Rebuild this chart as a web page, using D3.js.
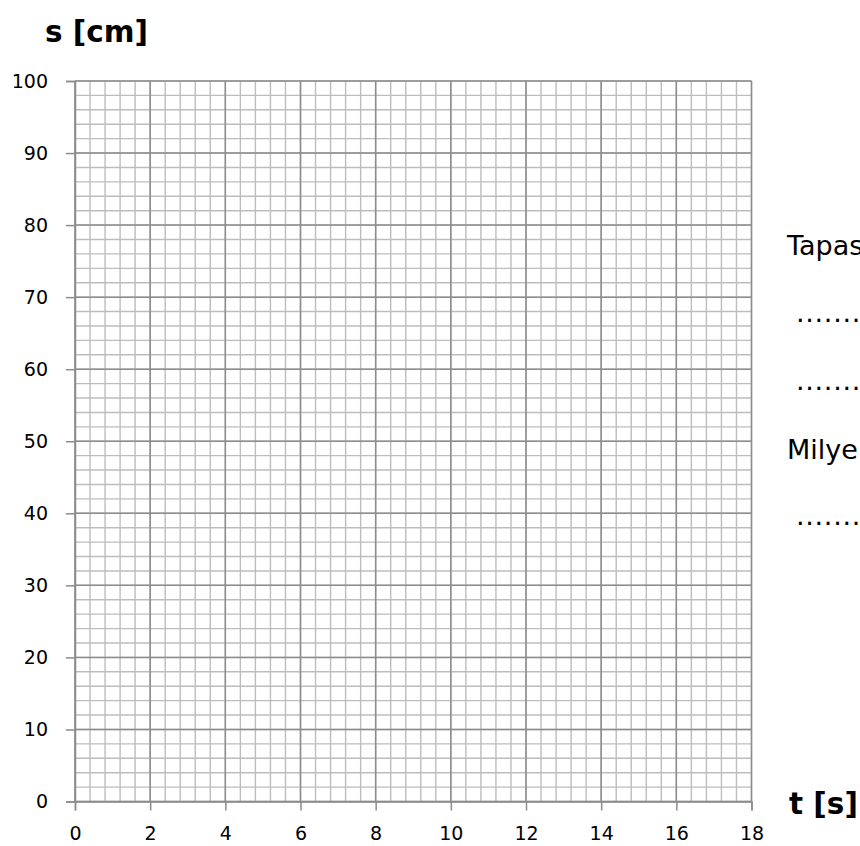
<!DOCTYPE html>
<html>
<head>
<meta charset="utf-8">
<script src="https://cdn.jsdelivr.net/npm/d3@7"></script>
<style>
  html, body { margin: 0; padding: 0; background: #fff; }
  svg { display: block; }
</style>
</head>
<body>
<script>
// ---- data ----
const xDomain = [0, 18];
const yDomain = [0, 100];
const xMajorTicks = [0, 2, 4, 6, 8, 10, 12, 14, 16, 18];
const yMajorTicks = [0, 10, 20, 30, 40, 50, 60, 70, 80, 90, 100];
const xMinorStep = 0.4;
const yMinorStep = 2;
const xAxisTitle = "t [s]";
const yAxisTitle = "s [cm]";
const sideTexts = [
  "Tapasztalat:",
  "....................................",
  "....................................",
  "Milyen mozgás?",
  "...................................."
];

// ---- layout ----
const W = 860, H = 846;
const margin = { left: 75, right: 108.5, top: 81, bottom: 44.5 };
const svg = d3.select("body").append("svg").attr("width", W).attr("height", H);

const x = d3.scaleLinear().domain(xDomain).range([margin.left, W - margin.right]);
const y = d3.scaleLinear().domain(yDomain).range([H - margin.bottom, margin.top]);

const xMinor = d3.range(0, Math.round((xDomain[1] - xDomain[0]) / xMinorStep) + 1).map(i => xDomain[0] + i * xMinorStep);
const yMinor = d3.range(0, Math.round((yDomain[1] - yDomain[0]) / yMinorStep) + 1).map(i => yDomain[0] + i * yMinorStep);

const grid = svg.append("g");
// minor grid
grid.selectAll("line.vmin").data(xMinor).join("line")
  .attr("x1", d => x(d)).attr("x2", d => x(d))
  .attr("y1", y(yDomain[0])).attr("y2", y(yDomain[1]))
  .attr("stroke", "#bdbdbd").attr("stroke-width", 1.4);
grid.selectAll("line.hmin").data(yMinor).join("line")
  .attr("y1", d => y(d)).attr("y2", d => y(d))
  .attr("x1", x(xDomain[0])).attr("x2", x(xDomain[1]))
  .attr("stroke", "#bdbdbd").attr("stroke-width", 1.4);
// major grid
grid.selectAll("line.vmaj").data(xMajorTicks).join("line")
  .attr("x1", d => x(d)).attr("x2", d => x(d))
  .attr("y1", y(yDomain[0])).attr("y2", y(yDomain[1]))
  .attr("stroke", "#8c8c8c").attr("stroke-width", 1.5);
grid.selectAll("line.hmaj").data(yMajorTicks).join("line")
  .attr("y1", d => y(d)).attr("y2", d => y(d))
  .attr("x1", x(xDomain[0])).attr("x2", x(xDomain[1]))
  .attr("stroke", "#8c8c8c").attr("stroke-width", 1.5);

// axes
const tickFont = "'DejaVu Sans', Verdana, sans-serif";
const xAxis = svg.append("g")
  .attr("transform", `translate(0,${y(yDomain[0])})`)
  .call(d3.axisBottom(x).tickValues(xMajorTicks).tickFormat(d3.format("d")).tickSize(9).tickPadding(16.5));
const yAxis = svg.append("g")
  .attr("transform", `translate(${x(xDomain[0])},0)`)
  .call(d3.axisLeft(y).tickValues(yMajorTicks).tickFormat(d3.format("d")).tickSize(9).tickPadding(18));
[xAxis, yAxis].forEach(a => {
  a.select(".domain").attr("stroke", "#8c8c8c").attr("stroke-width", 1.5);
  a.selectAll(".tick line").attr("stroke", "#8c8c8c").attr("stroke-width", 1.5);
  a.selectAll(".tick text").attr("fill", "#000").style("font-family", tickFont).style("font-size", "19px");
});

// axis titles
svg.append("text").attr("x", 45).attr("y", 42)
  .style("font-family", tickFont).style("font-weight", "bold").style("font-size", "29.5px")
  .text(yAxisTitle);
svg.append("text").attr("x", 789).attr("y", 814)
  .style("font-family", tickFont).style("font-weight", "bold").style("font-size", "29.5px")
  .text(xAxisTitle);

// side texts
const sideY = [255, 322, 390, 459, 525];
svg.selectAll("text.side").data(sideTexts).join("text")
  .attr("class", "side")
  .attr("x", (d, i) => d.startsWith(".") ? 796 : 787)
  .attr("y", (d, i) => sideY[i])
  .style("font-family", tickFont).style("font-size", "27px").attr("fill", "#000")
  .style("letter-spacing", d => d.startsWith(".") ? "0.7px" : null)
  .text(d => d);
</script>
</body>
</html>
